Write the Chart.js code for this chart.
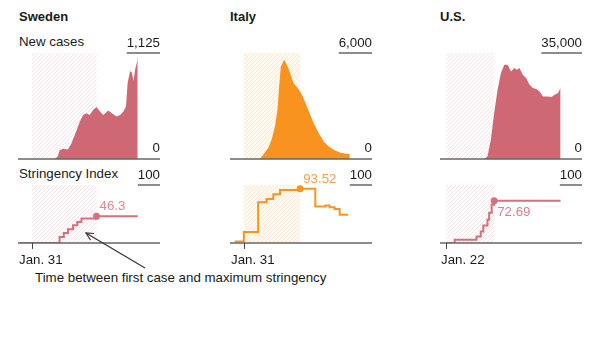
<!DOCTYPE html>
<html>
<head>
<meta charset="utf-8">
<script src="https://cdn.jsdelivr.net/npm/chart.js@4"></script>
<style>
  html, body { margin: 0; padding: 0; background: #fff; }
  body { width: 602px; height: 338px; position: relative; overflow: hidden;
         font-family: "Liberation Sans", Arial, Helvetica, sans-serif; color: #1a1a1a; }
  .t { position: absolute; font-size: 13.3px; line-height: 16px; white-space: nowrap; }
  .b { font-weight: bold; font-size: 13px; }
  canvas { position: absolute; z-index: 1; }
  svg { position: absolute; left: 0; top: 0; pointer-events: none; z-index: 2; }
</style>
</head>
<body>
<div class="t b" style="left:19px;top:9px">Sweden</div>
<div class="t b" style="left:230px;top:9px">Italy</div>
<div class="t b" style="left:440px;top:9px">U.S.</div>
<div class="t" style="left:19px;top:34px">New cases</div>
<div class="t" style="left:19px;top:166px">Stringency Index</div>
<div class="t" style="left:35px;top:270px">Time between first case and maximum stringency</div>
<svg width="602" height="338">
  <line x1="145" y1="268" x2="86" y2="233" stroke="#333" stroke-width="1.2"/>
  <polyline points="90.5,240 86,233 94,233.5" fill="none" stroke="#333" stroke-width="1.2"/>
</svg>
<script>
// Days are counted from Jan. 1, 2020 (Jan. 1 = 0).
const countries = ['Sweden', 'Italy', 'U.S.'];
const firstCaseDay = [30, 30, 21];
const firstCaseLabel = ['Jan. 31', 'Jan. 31', 'Jan. 22'];
const maxStringencyDay = [107, 97, 78];
const maxStringency = [46.3, 93.52, 72.69];
const caseAxisMax = [1125, 6000, 35000];
const caseAxisLabel = ['1,125', '6,000', '35,000'];
const stringencyAxisMax = 100;
const stringencyAxisLabel = '100';

// New cases
const swedenCaseDays = [30, 57, 61, 63, 67, 73, 77, 81, 87, 91, 95, 99, 103, 107, 111, 115, 121, 125, 131, 135, 139, 142, 144, 147, 149, 151, 153, 155, 156];
const swedenCases = [0, 0, 30, 92, 110, 100, 164, 253, 396, 468, 486, 468, 522, 551, 504, 468, 515, 486, 450, 468, 504, 558, 810, 935, 918, 827, 953, 1025, 1090];
const italyCaseDays = [30, 49, 53, 59, 63, 67, 70, 72, 74, 78, 83, 89, 93, 97, 101, 105, 109, 113, 119, 125, 131, 137, 144, 152, 156];
const italyCases = [0, 0, 243, 622, 1092, 1845, 2790, 4109, 5241, 5620, 5150, 4302, 4075, 3826, 3453, 2977, 2507, 2038, 1472, 996, 713, 526, 374, 300, 300];
const usCaseDays = [21, 66, 70, 74, 78, 82, 86, 90, 94, 98, 102, 105, 108, 112, 116, 120, 124, 128, 132, 136, 142, 146, 150, 154, 157];
const usCases = [0, 0, 858, 6373, 15190, 22883, 28397, 31137, 31137, 28925, 30048, 29487, 30048, 27836, 26746, 24534, 23444, 23114, 22322, 20671, 20671, 20450, 21232, 21794, 23444];

// Stringency index (value holds from each listed day)
const swedenStrDays = [15, 63, 68, 73, 79, 84, 89, 107, 156];
const swedenStr = [0, 10.4, 17.4, 23.7, 30.7, 36.4, 42.2, 46.3, 46.3];
const italyStrDays = [19, 30, 47, 57, 65, 73, 97, 115, 127, 132, 138, 144, 154];
const italyStr = [2.78, 19.0, 70.3, 76.0, 84.0, 91.4, 93.52, 62.8, 64.5, 61.7, 58.8, 48.5, 48.5];
const usStrDays = [21, 31, 57, 62, 65, 70, 72, 75, 78, 157];
const usStr = [0, 5.56, 11.1, 19.9, 30.0, 40.0, 52.0, 66.0, 72.69, 72.69];

const caseDays = [swedenCaseDays, italyCaseDays, usCaseDays];
const caseValues = [swedenCases, italyCases, usCases];
const strDays = [swedenStrDays, italyStrDays, usStrDays];
const strValues = [swedenStr, italyStr, usStr];

// Styling
const fillColor = ['#cd6874', '#f7931e', '#cd6874'];
const lineColor = ['#d5717c', '#f7951f', '#d5717c'];
const valueColor = ['#de8a93', '#f6a24c', '#d97f89'];
const hatchBg = ['#fffdfd', '#fef8ef', '#fffdfd'];
const hatchLine = ['#f8e1e4', '#fbebd6', '#f8e1e4'];
const valueLabelBelow = [false, false, true];

const colLeft = [18, 230, 440];
const X_MIN = 13.5, X_MAX = 182.5;
const FONT = '"Liberation Sans", Arial, Helvetica, sans-serif';

Chart.defaults.font.family = FONT;

const toPoints = (xs, ys) => xs.map((d, i) => ({ x: d, y: ys[i] }));

function hatchTile(bg, line) {
  const s = 4;
  const c = document.createElement('canvas');
  c.width = s; c.height = s;
  const g = c.getContext('2d');
  g.fillStyle = bg; g.fillRect(0, 0, s, s);
  g.strokeStyle = line; g.lineWidth = 1;
  g.beginPath();
  g.moveTo(0, s); g.lineTo(s, 0);
  g.moveTo(-1, 1); g.lineTo(1, -1);
  g.moveTo(s - 1, s + 1); g.lineTo(s + 1, s - 1);
  g.stroke();
  return c;
}

// Draws the shaded first-case-to-max-stringency band, baseline, axis labels and value label.
const panelDecor = {
  id: 'panelDecor',
  beforeDatasetsDraw(chart, args, o) {
    const { ctx, chartArea: a, scales: { x } } = chart;
    const x0 = x.getPixelForValue(o.from), x1 = x.getPixelForValue(o.to);
    ctx.save();
    ctx.fillStyle = ctx.createPattern(o.tile, 'repeat');
    ctx.fillRect(x0, a.top, x1 - x0, a.bottom - a.top);
    ctx.restore();
  },
  afterDatasetsDraw(chart, args, o) {
    const { ctx, chartArea: a, scales: { x, y } } = chart;
    ctx.save();
    ctx.strokeStyle = '#666';
    ctx.lineWidth = 1.5;
    ctx.beginPath();
    ctx.moveTo(a.left, a.bottom); ctx.lineTo(a.right, a.bottom);
    ctx.stroke();

    ctx.font = '13.3px ' + FONT;
    ctx.fillStyle = '#1a1a1a';
    ctx.textBaseline = 'alphabetic';
    ctx.textAlign = 'right';
    ctx.fillText(o.maxLabel, a.right, a.top - 6.5);
    const w = ctx.measureText(o.maxLabel).width;
    ctx.beginPath();
    ctx.moveTo(a.right - w, a.top); ctx.lineTo(a.right, a.top);
    ctx.stroke();
    if (o.zeroLabel) ctx.fillText('0', a.right, a.bottom - 7.3);

    if (o.tickLabel) {
      const tx = x.getPixelForValue(o.tickDay);
      ctx.strokeStyle = '#444';
      ctx.lineWidth = 1;
      ctx.beginPath();
      ctx.moveTo(Math.round(tx) + 0.5, a.bottom); ctx.lineTo(Math.round(tx) + 0.5, a.bottom + 6);
      ctx.stroke();
      ctx.textAlign = 'left';
      ctx.fillText(o.tickLabel, a.left + 1, a.bottom + 20.6);
    }
    if (o.valueLabel) {
      const px = x.getPixelForValue(o.valueDay), py = y.getPixelForValue(o.value);
      ctx.textAlign = 'left';
      ctx.fillStyle = o.valueColor;
      ctx.fillText(o.valueLabel, px + 3, o.valueBelow ? py + 15.6 : py - 6);
    }
    ctx.restore();
  }
};

function makeCanvas(left, top, w, h) {
  const c = document.createElement('canvas');
  c.width = w; c.height = h;
  c.style.left = left + 'px'; c.style.top = top + 'px';
  c.style.width = w + 'px'; c.style.height = h + 'px';
  document.body.appendChild(c);
  return c;
}

function baseOptions(yMax, padding, decor) {
  return {
    responsive: false,
    animation: false,
    devicePixelRatio: 1,
    layout: { padding },
    events: [],
    scales: {
      x: { type: 'linear', min: X_MIN, max: X_MAX, display: false },
      y: { min: 0, max: yMax, display: false }
    },
    plugins: { legend: { display: false }, tooltip: { enabled: false }, panelDecor: decor }
  };
}

countries.forEach((name, i) => {
  const L = colLeft[i];
  const tile = hatchTile(hatchBg[i], hatchLine[i]);

  // New cases area
  new Chart(makeCanvas(L - 6, 28, 154, 140), {
    type: 'line',
    data: {
      datasets: [{
        label: name + ' new cases',
        data: toPoints(caseDays[i], caseValues[i]),
        borderWidth: 0,
        borderColor: fillColor[i],
        backgroundColor: fillColor[i],
        fill: 'origin',
        pointRadius: 0,
        tension: 0
      }]
    },
    options: baseOptions(caseAxisMax[i], { left: 6, right: 6, top: 25, bottom: 9 }, {
      from: firstCaseDay[i], to: maxStringencyDay[i], tile,
      maxLabel: caseAxisLabel[i], zeroLabel: true
    }),
    plugins: [panelDecor]
  });

  // Stringency index step line
  const mDay = maxStringencyDay[i];
  new Chart(makeCanvas(L - 6, 163, 154, 105), {
    type: 'line',
    data: {
      datasets: [{
        label: name + ' stringency',
        data: toPoints(strDays[i], strValues[i]),
        borderColor: lineColor[i],
        backgroundColor: lineColor[i],
        borderWidth: 2,
        stepped: true,
        fill: false,
        pointRadius: ctx => (ctx.raw && ctx.raw.x === mDay ? 3.5 : 0),
        pointBorderWidth: 0
      }]
    },
    options: baseOptions(stringencyAxisMax, { left: 6, right: 6, top: 22, bottom: 25 }, {
      from: firstCaseDay[i], to: mDay, tile,
      maxLabel: stringencyAxisLabel, zeroLabel: false,
      tickDay: firstCaseDay[i], tickLabel: firstCaseLabel[i],
      valueDay: mDay, value: maxStringency[i], valueLabel: String(maxStringency[i]),
      valueColor: valueColor[i], valueBelow: valueLabelBelow[i]
    }),
    plugins: [panelDecor]
  });
});
</script>
</body>
</html>
